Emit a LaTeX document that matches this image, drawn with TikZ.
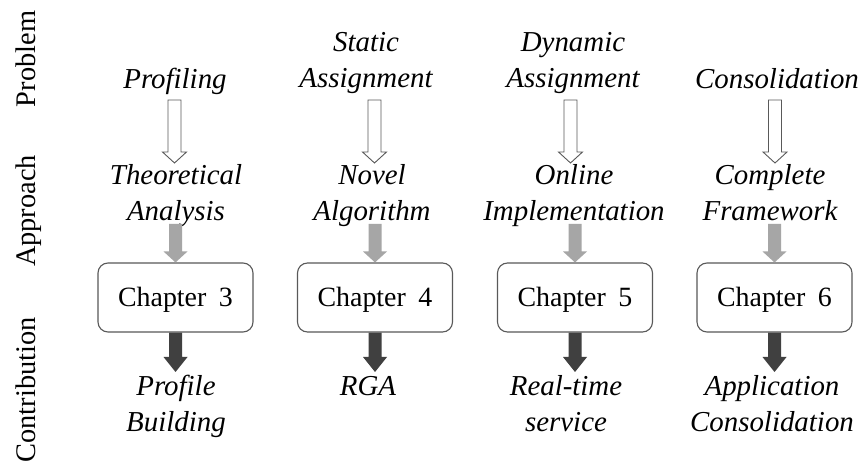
\documentclass[tikz,border=0pt]{standalone}
\usepackage{fontspec}
\setmainfont{Liberation Serif}
\usetikzlibrary{calc}
\definecolor{lgray}{HTML}{A6A6A6}
\definecolor{dgray}{HTML}{404040}
\definecolor{edgec}{HTML}{595959}
\newcommand\blkarrow[4]{\path[#1] let \p1=(#2), \p2=(#3) in
  (\x1-6.5bp,\y1) -- (\x1+6.5bp,\y1) -- (\x1+6.5bp,\y2+#4) -- (\x1+12bp,\y2+#4)
  -- (\x1,\y2) -- (\x1-12bp,\y2+#4) -- (\x1-6.5bp,\y2+#4) -- cycle;}
\tikzset{
  lbl/.style={font=\fontsize{29}{36}\selectfont\itshape, align=center, inner sep=0pt},
  side/.style={font=\fontsize{28.5}{36}\selectfont, rotate=90, anchor=base, inner sep=0pt},
  chap/.style={draw=edgec, line width=1.1pt, rounded corners=10bp, fill=white,
    minimum width=155bp, minimum height=69bp, inner sep=0pt, text height=22bp, text depth=3bp,
    font=\fontsize{28}{36}\selectfont},
  whitearr/.style={draw=edgec, line width=0.9pt, fill=white},
  grayarr/.style={fill=lgray},
  darkarr/.style={fill=dgray}
}
\begin{document}
\begin{tikzpicture}[x=1bp,y=-1bp]
\path[fill=white] (0,0) rectangle (861,462);
\useasboundingbox (0,0) rectangle (861,462);
% side labels
\node[side] (lp) at (35,59) {Problem};
\node[side] (la) at (35,211) {Approach};
\node[side] (lc) at (35,390) {Contribution};
% problem row
\node[lbl] (p1) at (175,81) {\strut Profiling};
\node[lbl] (p2) at (366,62.5) {\strut Static\\\strut Assignment};
\node[lbl] (p3) at (573,62.5) {\strut Dynamic\\\strut Assignment};
\node[lbl] (p4) at (777,81) {\strut Consolidation};
% approach row
\node[lbl] (a1) at (176,195) {\strut Theoretical\\\strut Analysis};
\node[lbl] (a2) at (372,195) {\strut Novel\\\strut Algorithm};
\node[lbl] (a3) at (574,195) {\strut Online\\\strut Implementation};
\node[lbl] (a4) at (770,195) {\strut Complete\\\strut Framework};
% chapters
\node[chap] (c3) at (175.5,297.5) {Chapter\hspace{0.45em}3};
\node[chap] (c4) at (375,297.5) {Chapter\hspace{0.45em}4};
\node[chap] (c5) at (575,297.5) {Chapter\hspace{0.45em}5};
\node[chap] (c6) at (774.5,297.5) {Chapter\hspace{0.45em}6};
% contribution row
\node[lbl] (r1) at (176,406.5) {\strut Profile\\\strut Building};
\node[lbl] (r2) at (368,388.5) {\strut RGA};
\node[lbl] (r3) at (566,406.5) {\strut Real-time\\\strut service};
\node[lbl] (r4) at (772,406.5) {\strut Application\\\strut Consolidation};
% arrow end points
\coordinate (w1s) at (174.5,100); \coordinate (w1e) at (174.5,163);
\coordinate (w2s) at (374.5,100); \coordinate (w2e) at (374.5,163);
\coordinate (w3s) at (570.5,100); \coordinate (w3e) at (570.5,163);
\coordinate (w4s) at (775,100);   \coordinate (w4e) at (775,163);
\coordinate (g1s) at (175.5,224); \coordinate (g2s) at (375,224);
\coordinate (g3s) at (575,224);   \coordinate (g4s) at (774.5,224);
\coordinate (d1e) at (175.5,372); \coordinate (d2e) at (375,372);
\coordinate (d3e) at (575,372);   \coordinate (d4e) at (774.5,372);
% white arrows
\blkarrow{whitearr}{w1s}{w1e}{11bp}
\blkarrow{whitearr}{w2s}{w2e}{11bp}
\blkarrow{whitearr}{w3s}{w3e}{11bp}
\blkarrow{whitearr}{w4s}{w4e}{11bp}
% gray arrows
\blkarrow{grayarr}{g1s}{c3.north}{11bp}
\blkarrow{grayarr}{g2s}{c4.north}{11bp}
\blkarrow{grayarr}{g3s}{c5.north}{11bp}
\blkarrow{grayarr}{g4s}{c6.north}{11bp}
% dark arrows
\blkarrow{darkarr}{c3.south}{d1e}{15bp}
\blkarrow{darkarr}{c4.south}{d2e}{15bp}
\blkarrow{darkarr}{c5.south}{d3e}{15bp}
\blkarrow{darkarr}{c6.south}{d4e}{15bp}
\end{tikzpicture}
\end{document}
